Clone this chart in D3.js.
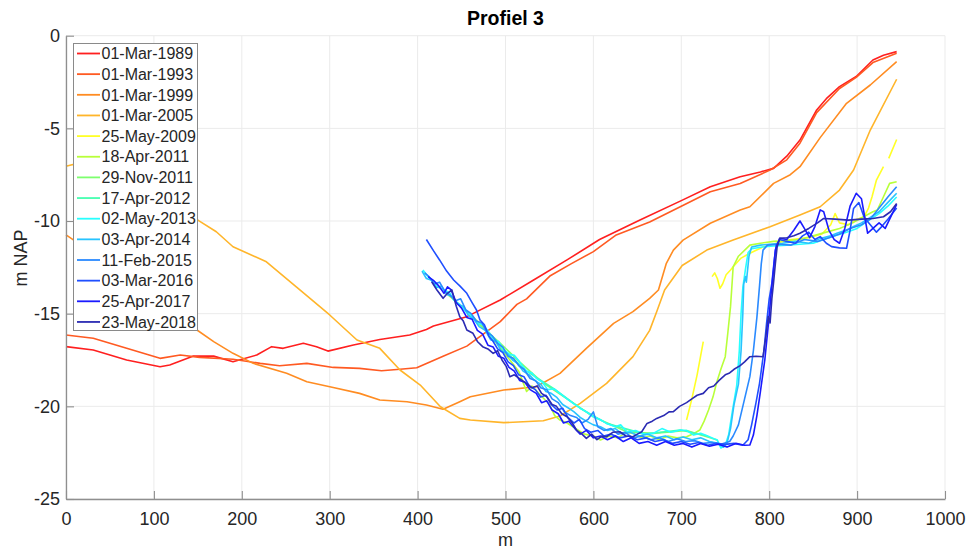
<!DOCTYPE html>
<html>
<head>
<meta charset="utf-8">
<script src="https://cdn.jsdelivr.net/npm/d3@7"></script>
<style>
  body { margin: 0; background: #fff; }
  svg { font-family: "Liberation Sans", Arial, sans-serif; }
</style>
</head>
<body>
<div class="graph"></div>
<script>
// profile survey dates, one line each (legend order = draw order)
const dates = ['01-Mar-1989', '01-Mar-1993', '01-Mar-1999', '01-Mar-2005', '25-May-2009',
  '18-Apr-2011', '29-Nov-2011', '17-Apr-2012', '02-May-2013', '03-Apr-2014',
  '11-Feb-2015', '03-Mar-2016', '25-Apr-2017', '23-May-2018'];

const colors = ['#ff1f1f', '#ff5a22', '#ff8c22', '#ffb52a', '#ffff26', '#b8ff3a', '#7dff6e',
  '#45ffb0', '#28ffff', '#28c4ff', '#2a8aff', '#1f4fff', '#1a1aff', '#2b2bb3'];

const xTicks = [0, 100, 200, 300, 400, 500, 600, 700, 800, 900, 1000];
const yTicks = [-25, -20, -15, -10, -5, 0];

// [distance m, height m NAP]; null height = gap
const p1989 = [[0,-16.78],[31,-16.96],[69,-17.5],[107,-17.86],[118,-17.77],[145,-17.29],[168,-17.29],[190,-17.59],[217,-17.23],[234,-16.78],[247,-16.87],[270,-16.6],[285,-16.78],[298,-17.02],[327,-16.69],[357,-16.39],[391,-16.15],[410,-15.85],[418,-15.67],[456,-15.16],[494,-14.26],[532,-13.18],[570,-12.1],[607,-11.0],[653,-9.95],[700,-8.9],[733,-8.15],[767,-7.61],[790,-7.35],[805,-7.16],[820,-6.5],[835,-5.63],[854,-4.01],[865,-3.4],[880,-2.75],[899,-2.2],[918,-1.31],[930,-1.05],[945,-0.86]];

const p1993 = [[0,-16.15],[31,-16.33],[69,-16.87],[107,-17.41],[130,-17.23],[152,-17.36],[190,-17.46],[221,-17.68],[243,-17.81],[274,-17.68],[304,-17.9],[334,-17.95],[359,-18.08],[380,-18.0],[399,-17.92],[429,-17.3],[456,-16.75],[479,-15.95],[494,-15.43],[513,-14.5],[524,-14.2],[551,-12.95],[575,-12.3],[600,-11.65],[626,-10.75],[664,-10.05],[700,-9.2],[733,-8.42],[767,-7.97],[801,-7.25],[820,-6.7],[835,-5.8],[854,-4.15],[880,-2.85],[899,-2.25],[918,-1.45],[945,-0.95]];

const p1999 = [[0,-10.75],[8,-11.0],[50,-12.6],[100,-14.3],[149,-15.88],[168,-16.51],[190,-17.14],[213,-17.68],[251,-18.22],[274,-18.67],[304,-18.98],[334,-19.3],[357,-19.66],[388,-19.75],[410,-19.93],[429,-20.16],[448,-19.75],[460,-19.48],[498,-19.12],[535,-18.94],[562,-18.22],[592,-16.87],[623,-15.52],[645,-14.89],[664,-14.17],[674,-13.72],[683,-12.28],[691,-11.57],[702,-11.03],[733,-10.12],[767,-9.41],[778,-9.23],[805,-7.97],[824,-7.5],[835,-7.07],[858,-5.5],[888,-3.65],[915,-2.66],[945,-1.4]];

const p2005 = [[0,-7.05],[8,-6.95],[50,-7.8],[100,-8.9],[150,-9.95],[171,-10.58],[190,-11.39],[228,-12.2],[262,-13.55],[300,-15.07],[331,-16.42],[357,-16.87],[380,-18.04],[403,-18.85],[426,-20.02],[448,-20.65],[460,-20.74],[498,-20.88],[543,-20.78],[562,-20.52],[585,-19.84],[615,-18.76],[645,-17.32],[664,-15.9],[672,-14.9],[681,-13.72],[701,-12.4],[729,-11.57],[759,-11.03],[801,-10.31],[835,-9.68],[858,-9.23],[880,-8.33],[896,-7.25],[915,-5.09],[945,-2.35]];

const p2009 = [[706,-20.74],[712,-19.6],[718,-18.3],[725,-16.51],[730,null],[735,-13.0],[738,-12.8],[741,-13.1],[744,-13.63],[747,-13.4],[751,-12.9],[756,-12.64],[759,-12.47],[768,-12.0],[778,-11.74],[793,-11.4],[808,-11.2],[825,-11.0],[845,-10.9],[860,-10.7],[870,-10.2],[875,-9.6],[880,-10.1],[890,-10.2],[900,-9.9],[908,-9.77],[913,-9.3],[917,-8.69],[922,-7.79],[930,-7.07],[933,null],[936,-6.62],[945,-5.6]];

const p2011a = [[430,-13.8],[450,-14.6],[470,-15.5],[490,-16.6],[505,-17.5],[515,-18.1],[524,-19.2],[530,-18.9],[540,-19.4],[550,-19.9],[556,-20.5],[562,-20.74],[570,-20.9],[580,-21.2],[590,-21.5],[600,-21.6],[608,-21.82],[618,-21.6],[628,-21.7],[637,-21.4],[645,-21.46],[655,-21.7],[665,-21.6],[675,-21.8],[685,-21.6],[695,-21.7],[706,-21.64],[715,-21.45],[721,-21.28],[726,-20.8],[731,-20.2],[736,-19.5],[740,-18.76],[745,-18.0],[750,-17.32],[753,-16.0],[756,-14.62],[758,-13.2],[759,-12.47],[765,-11.9],[778,-11.3],[790,-11.2],[805,-11.1],[820,-11.05],[835,-11.0],[850,-10.8],[865,-10.6],[880,-10.4],[895,-10.1],[910,-9.7],[918,-9.5],[923,-9.41],[930,-8.69],[937,-7.97],[945,-7.88]];

// these two are hidden below the later surveys in the picture
const p2011b = [[468,-15.5],[492,-16.5],[516,-17.6],[542,-18.7],[570,-19.6],[600,-20.56],[638,-21.37],[668,-21.46],[706,-21.3],[741,-21.82]];
const p2012 = [[474,-15.6],[498,-16.96],[524,-18.1],[555,-19.05],[585,-20.1],[615,-20.92],[658,-21.5],[699,-21.28],[730,-21.6]];

const p2013 = [[406,-12.64],[412,-13.0],[418,-13.3],[422,-13.55],[430,-13.7],[437,-13.9],[441,-14.26],[448,-14.5],[455,-14.9],[460,-15.07],[468,-15.5],[474,-15.6],[479,-15.88],[486,-16.4],[492,-16.5],[498,-16.96],[505,-17.2],[510,-17.25],[516,-17.6],[524,-18.1],[530,-18.2],[535,-18.49],[542,-18.7],[548,-19.1],[555,-19.05],[562,-19.3],[570,-19.6],[577,-19.84],[585,-20.1],[592,-20.3],[600,-20.56],[607,-20.7],[615,-20.92],[625,-21.1],[631,-21.0],[638,-21.37],[648,-21.3],[658,-21.5],[668,-21.46],[678,-21.2],[688,-21.4],[699,-21.28],[706,-21.3],[714,-21.55],[722,-21.45],[730,-21.6],[737,-21.75],[741,-21.82],[745,-22.25],[750,-22.1],[754,-21.5],[758,-20.3],[763,-18.9],[766,-17.0],[768,-15.0],[770,-13.6],[773,-12.6],[776,-11.7],[780,-11.5],[792,-11.4],[805,-11.35],[820,-11.3],[835,-11.25],[850,-11.2],[862,-11.0],[875,-10.8],[888,-10.6],[900,-10.4],[912,-10.0],[925,-9.6],[935,-9.2],[945,-8.7]];

const p2014 = [[405,-12.7],[410,-13.1],[416,-13.2],[421,-13.6],[427,-13.5],[433,-13.95],[440,-14.1],[446,-14.5],[452,-14.6],[458,-15.1],[464,-15.3],[470,-15.7],[477,-15.9],[483,-16.4],[489,-16.5],[495,-17.0],[502,-17.15],[508,-17.5],[514,-17.7],[520,-18.1],[527,-18.3],[533,-18.6],[540,-18.8],[546,-19.2],[552,-19.3],[558,-19.5],[565,-19.9],[572,-20.1],[578,-20.3],[585,-20.6],[592,-20.8],[600,-21.0],[608,-21.1],[616,-21.3],[625,-21.2],[633,-21.5],[642,-21.4],[652,-21.6],[662,-21.5],[672,-21.7],[682,-21.6],[692,-21.8],[702,-21.65],[712,-21.8],[722,-21.7],[732,-21.9],[742,-22.0],[748,-22.2],[752,-22.0],[756,-21.2],[760,-19.9],[765,-18.8],[768,-17.0],[770,-15.0],[771,-13.4],[773,-13.0],[774,-13.3],[777,-11.9],[780,-11.4],[790,-11.3],[800,-11.25],[815,-11.2],[830,-11.1],[845,-11.2],[858,-10.95],[870,-10.8],[877,-10.66],[890,-10.45],[896,-10.3],[905,-10.1],[915,-9.8],[925,-9.5],[934,-9.05],[945,-8.5]];

const p2015 = [[408,-12.8],[413,-13.0],[419,-13.4],[425,-13.3],[431,-13.8],[437,-14.0],[443,-14.3],[449,-14.2],[455,-14.8],[461,-15.0],[467,-15.4],[473,-15.5],[479,-16.0],[485,-16.2],[491,-16.6],[497,-16.8],[503,-17.3],[509,-17.4],[515,-17.8],[521,-18.0],[528,-18.5],[534,-18.6],[540,-19.0],[547,-19.1],[553,-19.6],[560,-19.8],[567,-20.3],[574,-20.5],[581,-20.6],[587,-20.9],[594,-20.7],[600,-20.3],[605,-21.1],[612,-21.3],[620,-21.2],[628,-21.5],[636,-21.4],[645,-21.7],[655,-21.6],[665,-21.8],[675,-21.7],[685,-21.9],[695,-21.75],[705,-21.9],[715,-21.85],[725,-22.0],[735,-21.95],[745,-22.05],[755,-21.9],[759,-21.6],[765,-21.0],[772,-19.6],[778,-18.4],[782,-17.0],[786,-15.2],[789,-13.5],[791,-12.3],[793,-11.57],[798,-11.3],[810,-11.25],[825,-11.3],[840,-11.0],[855,-11.1],[868,-10.9],[880,-10.7],[892,-10.4],[905,-10.2],[915,-9.9],[925,-9.3],[935,-8.7],[945,-8.15]];

const p2016 = [[410,-11.0],[418,-11.6],[425,-12.1],[433,-12.7],[441,-13.18],[448,-13.5],[456,-13.9],[462,-14.4],[467,-14.8],[471,-15.34],[476,-15.6],[481,-16.2],[486,-16.5],[491,-16.9],[497,-17.1],[503,-17.6],[509,-17.8],[515,-18.3],[521,-18.4],[527,-18.9],[534,-19.1],[540,-19.5],[546,-19.4],[552,-19.9],[559,-20.2],[565,-20.1],[571,-20.6],[578,-20.9],[584,-20.7],[590,-21.2],[597,-21.4],[605,-21.3],[612,-21.6],[620,-21.5],[630,-21.7],[640,-21.6],[650,-21.8],[660,-21.7],[670,-21.9],[680,-21.8],[690,-22.0],[700,-21.9],[710,-22.05],[720,-21.95],[730,-22.1],[740,-22.0],[750,-22.05],[760,-22.0],[770,-22.1],[776,-21.8],[780,-21.0],[785,-19.8],[789,-18.76],[794,-17.0],[797,-15.52],[800,-14.2],[803,-13.36],[806,-12.0],[808,-11.3],[812,-11.0],[820,-11.1],[830,-11.2],[838,-10.8],[845,-10.6],[852,-11.0],[858,-10.84],[865,-11.2],[871,-11.38],[880,-11.45],[888,-11.47],[892,-10.5],[896,-9.32],[902,-9.0],[908,-9.8],[915,-10.2],[922,-10.6],[928,-10.3],[935,-9.9],[945,-9.3]];

const p2017 = [[412,-13.0],[418,-13.2],[424,-13.5],[430,-13.9],[434,-13.55],[438,-13.7],[444,-14.4],[450,-14.7],[456,-15.2],[462,-15.3],[468,-15.9],[474,-16.1],[480,-16.7],[486,-16.8],[492,-17.3],[498,-17.4],[504,-17.9],[510,-18.1],[516,-18.6],[522,-18.7],[528,-19.1],[535,-19.3],[541,-19.8],[547,-19.7],[553,-20.2],[560,-20.4],[566,-20.9],[572,-20.8],[579,-21.2],[585,-21.5],[592,-21.3],[600,-21.7],[608,-21.6],[616,-21.8],[625,-21.6],[634,-21.9],[643,-21.7],[652,-22.0],[662,-21.9],[672,-22.1],[682,-21.9],[692,-22.1],[702,-22.0],[712,-22.2],[722,-22.0],[732,-22.15],[742,-22.05],[752,-22.2],[762,-22.0],[772,-22.1],[778,-22.09],[782,-21.55],[786,-20.5],[790,-19.2],[795,-17.5],[799,-15.6],[802,-14.0],[805,-12.6],[807,-11.57],[812,-10.93],[820,-11.0],[828,-10.5],[835,-10.0],[840,-10.4],[846,-10.9],[852,-10.3],[858,-9.4],[862,-9.5],[868,-10.5],[874,-11.0],[880,-11.2],[886,-10.4],[892,-9.2],[899,-8.5],[905,-8.8],[912,-10.66],[918,-10.4],[925,-10.1],[932,-10.4],[938,-9.8],[945,-9.1]];

const p2018 = [[416,-13.28],[422,-13.72],[429,-14.17],[434,-13.9],[439,-13.72],[444,-14.6],[448,-15.16],[452,-15.4],[456,-15.88],[463,-16.06],[468,-16.5],[474,-16.78],[480,-16.9],[486,-17.14],[491,-17.0],[496,-17.5],[501,-17.86],[505,-18.4],[510,-18.3],[516,-18.5],[524,-18.76],[530,-19.0],[536,-18.9],[541,-19.3],[547,-19.48],[553,-19.9],[558,-20.0],[564,-20.4],[570,-20.56],[576,-20.9],[581,-21.3],[587,-21.5],[592,-21.73],[598,-21.5],[604,-21.8],[610,-21.6],[615,-21.64],[622,-21.4],[630,-21.37],[637,-21.6],[645,-21.64],[650,-21.5],[655,-21.37],[661,-20.92],[667,-20.8],[672,-20.65],[680,-20.5],[686,-20.3],[691,-20.29],[698,-20.0],[706,-19.8],[712,-19.6],[718,-19.4],[725,-19.3],[731,-19.0],[737,-18.9],[743,-18.6],[750,-18.3],[755,-18.2],[760,-18.0],[767,-17.8],[772,-17.6],[778,-17.32],[785,-17.3],[793,-17.32],[796,-16.3],[799,-15.16],[801,-15.5],[803,-14.2],[805,-13.3],[807,-12.3],[809,-11.4],[812,-10.93],[820,-10.9],[828,-10.8],[835,-10.66],[845,-10.4],[855,-10.1],[862,-9.86],[875,-9.9],[890,-9.95],[905,-9.9],[918,-9.86],[930,-9.77],[938,-9.5],[945,-9.05]];

const profiles = [p1989, p1993, p1999, p2005, p2009, p2011a, p2011b, p2012,
  p2013, p2014, p2015, p2016, p2017, p2018];

const width = 968;
const height = 554;
const plot = { left: 66, right: 945, top: 35.7, bottom: 499 };
const textColor = '#262626';

const svg = d3.select('.graph')
  .append('svg')
  .attr('width', width)
  .attr('height', height);

const x = d3.scaleLinear().domain([0, 1000]).range([plot.left, plot.right]);
const y = d3.scaleLinear().domain([-25, 0]).range([plot.bottom, plot.top]);

// grid
svg.append('g')
  .selectAll('line')
  .data(xTicks)
  .enter()
    .append('line')
    .attr('x1', d => x(d)).attr('x2', d => x(d))
    .attr('y1', plot.top).attr('y2', plot.bottom)
    .attr('stroke', '#ebebeb');

svg.append('g')
  .selectAll('line')
  .data(yTicks)
  .enter()
    .append('line')
    .attr('x1', plot.left).attr('x2', plot.right)
    .attr('y1', d => y(d)).attr('y2', d => y(d))
    .attr('stroke', '#ebebeb');

// lines, first survey drawn first
const line = d3.line()
  .defined(d => d[1] !== null)
  .x(d => x(d[0]))
  .y(d => y(d[1]));

svg.append('g')
  .selectAll('path')
  .data(profiles)
  .enter()
    .append('path')
    .attr('d', line)
    .attr('fill', 'none')
    .attr('stroke', (d, i) => colors[i])
    .attr('stroke-width', 1.6)
    .attr('stroke-linejoin', 'round');

// axes with inward ticks
const xAxis = svg.append('g')
  .attr('transform', `translate(0,${plot.bottom})`)
  .call(d3.axisBottom(x).tickValues(xTicks).tickFormat(d => String(d))
    .tickSizeInner(-8).tickSizeOuter(0).tickPadding(13));

const yAxis = svg.append('g')
  .attr('transform', `translate(${plot.left},0)`)
  .call(d3.axisLeft(y).tickValues(yTicks).tickFormat(d => String(d))
    .tickSizeInner(-8).tickSizeOuter(0).tickPadding(6));

[xAxis, yAxis].forEach(a => {
  a.select('.domain').attr('stroke', '#8f8f8f').attr('stroke-width', 1.3);
  a.selectAll('.tick line').attr('stroke', '#8f8f8f').attr('stroke-width', 1.1);
  a.selectAll('.tick text')
    .attr('fill', textColor)
    .style('font-size', '18px')
    .style('font-family', '"Liberation Sans", Arial, sans-serif');
});

// titles
svg.append('text')
  .attr('x', (plot.left + plot.right) / 2)
  .attr('y', 25)
  .attr('text-anchor', 'middle')
  .attr('fill', '#000')
  .style('font-size', '19.5px')
  .style('font-weight', 'bold')
  .text('Profiel 3');

svg.append('text')
  .attr('x', (plot.left + plot.right) / 2)
  .attr('y', 546)
  .attr('text-anchor', 'middle')
  .attr('fill', textColor)
  .style('font-size', '18px')
  .text('m');

svg.append('text')
  .attr('transform', 'translate(26.5,258) rotate(-90)')
  .attr('text-anchor', 'middle')
  .attr('fill', textColor)
  .style('font-size', '18px')
  .text('m NAP');

// legend
const legend = svg.append('g');
const rowStep = 20.65;

legend.append('rect')
  .attr('x', 73.5)
  .attr('y', 43.5)
  .attr('width', 124)
  .attr('height', 287)
  .attr('fill', '#fff')
  .attr('stroke', '#8a8a8a')
  .attr('stroke-width', 1);

const rows = legend.selectAll('g.row')
  .data(dates)
  .enter()
    .append('g')
    .attr('class', 'row')
    .attr('transform', (d, i) => `translate(0,${53.5 + i * rowStep})`);

rows.append('line')
  .attr('x1', 77).attr('x2', 100)
  .attr('stroke', (d, i) => colors[i])
  .attr('stroke-width', 1.8);

rows.append('text')
  .attr('x', 101.5)
  .attr('y', 5.7)
  .attr('fill', textColor)
  .style('font-size', '16px')
  .text(d => d);
</script>
</body>
</html>
